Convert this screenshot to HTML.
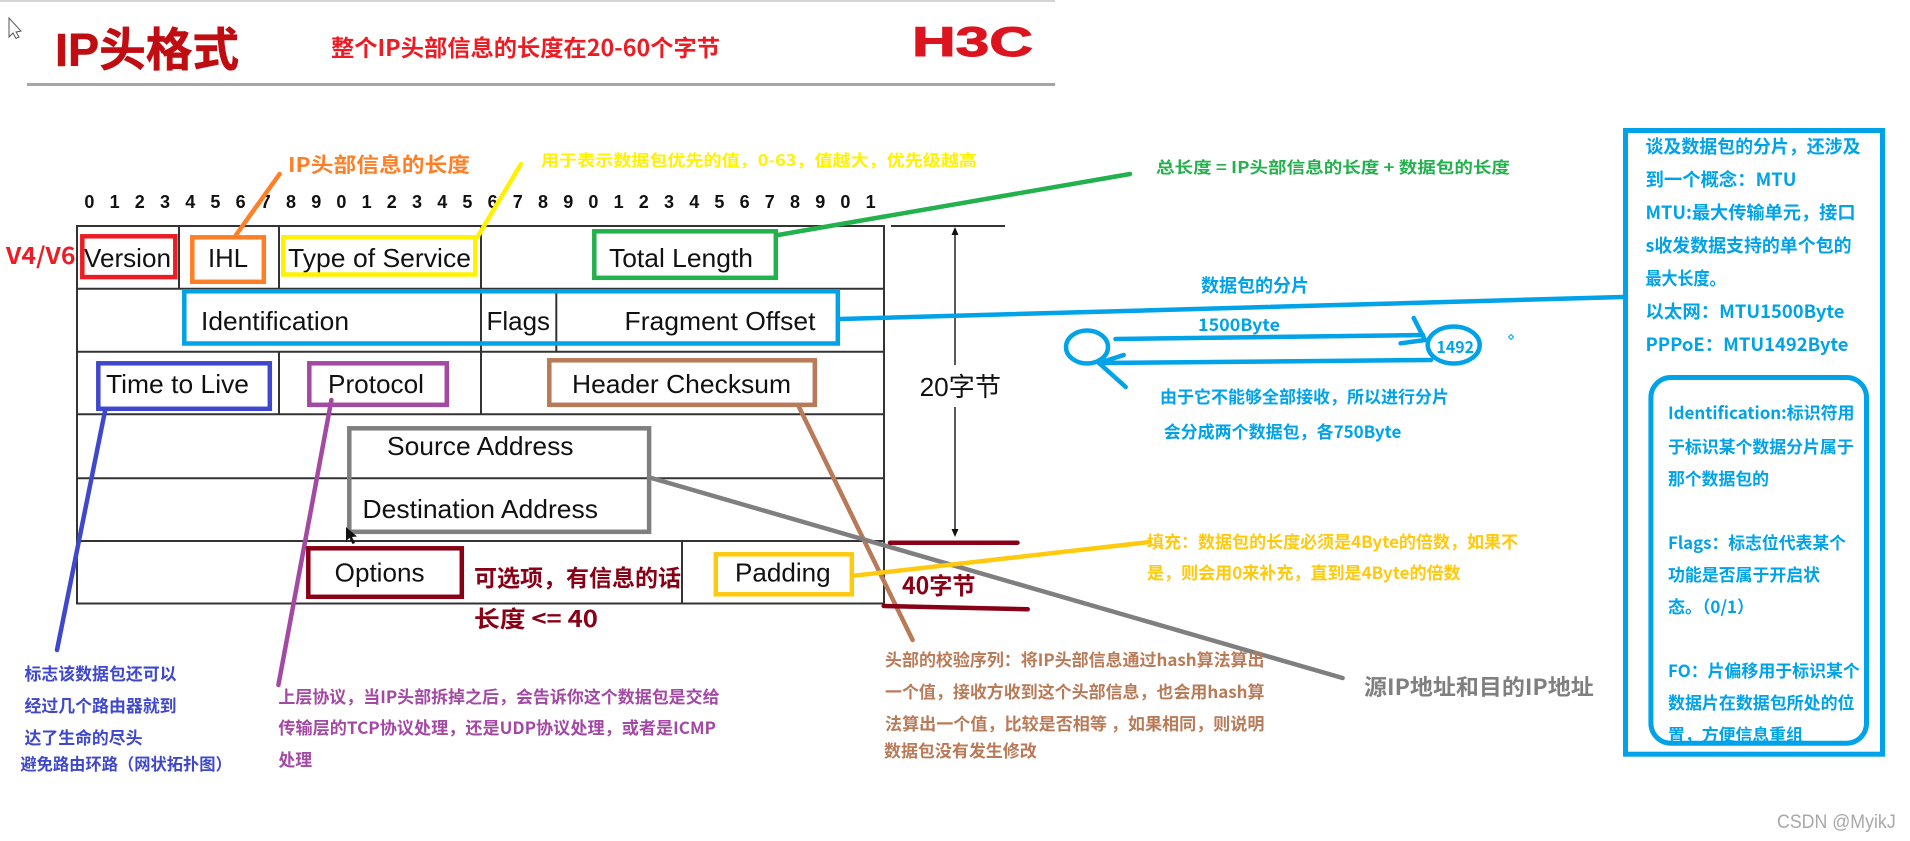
<!DOCTYPE html>
<html lang="zh">
<head>
<meta charset="utf-8">
<title>IP头格式</title>
<style>
html,body{margin:0;padding:0;background:#fff;width:1910px;height:841px;overflow:hidden}
svg{display:block}
text{font-family:"Liberation Sans","Noto Sans CJK SC",sans-serif;white-space:pre}
.b{font-weight:700;font-family:"Noto Sans CJK SC","Liberation Sans",sans-serif}
.h{font-weight:700;font-family:"Liberation Sans","Noto Sans CJK SC",sans-serif}
.l{font-size:26px;fill:#111}
.d{font-size:18px;font-weight:700;fill:#111;text-anchor:middle}
.c{fill:none;stroke-width:4.5}
.ln{fill:none;stroke-width:4.5;stroke-linecap:round}
</style>
</head>
<body>
<svg width="1910" height="841" viewBox="0 0 1910 841" xmlns="http://www.w3.org/2000/svg">
<rect width="1910" height="841" fill="#fff"/>
<rect x="0" y="0" width="1055" height="2" fill="#d4d4d4"/>
<rect x="27" y="83" width="1028" height="3" fill="#a6a6a6"/>
<path d="M9 18V37L13 33L16 38.500L19 37L16 32L21 31Z" fill="#fff" stroke="#555" stroke-width="1"/>

<text class="h" x="55" y="66" font-size="46" fill="#c00d12" stroke="#c00d12" stroke-width="0.600" textLength="184" lengthAdjust="spacingAndGlyphs">IP头格式</text>
<text class="b" x="331" y="56" font-size="23" fill="#ed1c24" textLength="389" lengthAdjust="spacingAndGlyphs">整个IP头部信息的长度在20-60个字节</text>
<text class="h" x="912" y="56" font-size="42" fill="#dc1420" stroke="#dc1420" stroke-width="1" textLength="121" lengthAdjust="spacingAndGlyphs">H3C</text>

<g>
<text class="d" x="89.400" y="208">0</text><text class="d" x="114.600" y="208">1</text><text class="d" x="139.800" y="208">2</text><text class="d" x="165" y="208">3</text><text class="d" x="190.200" y="208">4</text><text class="d" x="215.400" y="208">5</text><text class="d" x="240.600" y="208">6</text><text class="d" x="265.800" y="208">7</text><text class="d" x="291" y="208">8</text><text class="d" x="316.200" y="208">9</text><text class="d" x="341.400" y="208">0</text><text class="d" x="366.600" y="208">1</text><text class="d" x="391.800" y="208">2</text><text class="d" x="417" y="208">3</text><text class="d" x="442.200" y="208">4</text><text class="d" x="467.400" y="208">5</text><text class="d" x="492.600" y="208">6</text><text class="d" x="517.800" y="208">7</text><text class="d" x="543" y="208">8</text><text class="d" x="568.200" y="208">9</text><text class="d" x="593.400" y="208">0</text><text class="d" x="618.600" y="208">1</text><text class="d" x="643.800" y="208">2</text><text class="d" x="669" y="208">3</text><text class="d" x="694.200" y="208">4</text><text class="d" x="719.400" y="208">5</text><text class="d" x="744.600" y="208">6</text><text class="d" x="769.800" y="208">7</text><text class="d" x="795" y="208">8</text><text class="d" x="820.200" y="208">9</text><text class="d" x="845.400" y="208">0</text><text class="d" x="870.600" y="208">1</text>
</g>

<g stroke="#333" stroke-width="2" fill="none">
<rect x="77" y="226" width="807" height="377.500"/>
<path d="M77 288.700H884M77 351.700H884M77 414.300H884M77 478.300H884M77 541H884"/>
<path d="M179 226V288.700M279 226V288.700M481 226V414.300M556.300 288.700V351.700M279 351.700V414.300M682 541V603.500"/>
<path d="M891 226H1005"/>
<path d="M955 232V365M955 407V530" stroke="#222" stroke-width="1.500"/>
</g>
<path d="M955 227L951.500 235H958.500ZM955 537L951.500 529H958.500Z" fill="#111"/>

<g class="l">
<text class="l" x="84" y="267" textLength="87" lengthAdjust="spacingAndGlyphs">Version</text>
<text class="l" x="208" y="267" textLength="40" lengthAdjust="spacingAndGlyphs">IHL</text>
<text class="l" x="288" y="267" textLength="183" lengthAdjust="spacingAndGlyphs">Type of Service</text>
<text class="l" x="609" y="267" textLength="144" lengthAdjust="spacingAndGlyphs">Total Length</text>
<text class="l" x="201" y="330" textLength="148" lengthAdjust="spacingAndGlyphs">Identification</text>
<text class="l" x="486.500" y="330" textLength="63.500" lengthAdjust="spacingAndGlyphs">Flags</text>
<text class="l" x="624.500" y="330" textLength="191" lengthAdjust="spacingAndGlyphs">Fragment Offset</text>
<text class="l" x="106" y="393" textLength="143" lengthAdjust="spacingAndGlyphs">Time to Live</text>
<text class="l" x="328" y="393" textLength="96" lengthAdjust="spacingAndGlyphs">Protocol</text>
<text class="l" x="572" y="393" textLength="219" lengthAdjust="spacingAndGlyphs">Header Checksum</text>
<text class="l" x="387" y="455" textLength="186.500" lengthAdjust="spacingAndGlyphs">Source Address</text>
<text class="l" x="362.500" y="518" textLength="235.500" lengthAdjust="spacingAndGlyphs">Destination Address</text>
<text class="l" x="334.700" y="581.700" textLength="89.800" lengthAdjust="spacingAndGlyphs">Options</text>
<text class="l" x="735" y="581.700" textLength="95.600" lengthAdjust="spacingAndGlyphs">Padding</text>
</g>
<text x="919.600" y="396" font-size="26" fill="#111" textLength="81.400" lengthAdjust="spacingAndGlyphs">20字节</text>

<g>
<path class="ln" stroke="#ff7f27" d="M279.600 174L236 235"/>
<path class="ln" stroke="#fff200" d="M521 164L477.500 237"/>
<path class="ln" stroke="#22b14c" d="M1130 174L778 235"/>
<path class="ln" stroke="#00a2e8" d="M840 319L1623 297"/>
<path class="ln" stroke="#3f48cc" d="M105 411L57 650"/>
<path class="ln" stroke="#a349a4" d="M331.400 400L278.400 685"/>
<path class="ln" stroke="#b97a57" d="M799 407L912.600 640"/>
<path class="ln" stroke="#7f7f7f" d="M651.400 478L1342.600 678"/>
<path class="ln" stroke="#ffc90e" d="M854 575.700L1150 542"/>
<path class="ln" stroke="#880015" d="M890 542.700H1017.500M883.700 606L1027.700 609.300"/>
</g>

<g class="c">
<rect class="c" stroke="#ed1c24" x="82.300" y="236.300" width="93" height="40.800"/>
<rect class="c" stroke="#ff7f27" x="192.300" y="237.300" width="71.500" height="44.500"/>
<rect class="c" stroke="#fff200" x="283.300" y="237.300" width="192" height="37.200"/>
<rect class="c" stroke="#22b14c" x="594.300" y="231.300" width="181.500" height="46.500"/>
<rect class="c" stroke="#00a2e8" x="184.300" y="291.300" width="653.500" height="52.200"/>
<rect class="c" stroke="#3f48cc" x="98.300" y="363.300" width="171.500" height="45.500"/>
<rect class="c" stroke="#a349a4" x="309.300" y="363.300" width="137.500" height="41.500"/>
<rect class="c" stroke="#b97a57" x="549.300" y="360.300" width="265.500" height="44.500"/>
<rect class="c" stroke="#7f7f7f" x="349.300" y="428.300" width="299.800" height="103.500"/>
<rect class="c" stroke="#880015" x="308.300" y="548.300" width="153.500" height="48.500"/>
<rect class="c" stroke="#ffc90e" x="715.800" y="554.300" width="136" height="40"/>
</g>
<path d="M346 527V541L349.500 538L352.500 544L355 543L352 537L357 536.500Z" fill="#111"/>

<text class="b" x="6" y="264" font-size="23" fill="#ed1c24" textLength="69.500" lengthAdjust="spacingAndGlyphs">V4/V6</text>
<text class="b" x="288" y="172" font-size="20.500" fill="#ff7f27" textLength="182" lengthAdjust="spacingAndGlyphs">IP头部信息的长度</text>
<text class="b" x="541" y="166" font-size="16" fill="#fff200" textLength="436" lengthAdjust="spacingAndGlyphs">用于表示数据包优先的值，0-63，值越大，优先级越高</text>
<text class="b" x="1156" y="173" font-size="16" fill="#22b14c" textLength="354" lengthAdjust="spacingAndGlyphs">总长度 = IP头部信息的长度 + 数据包的长度</text>

<text class="b" x="1201" y="292" font-size="18" fill="#00a2e8" textLength="108" lengthAdjust="spacingAndGlyphs">数据包的分片</text>
<text class="b" x="1198" y="331" font-size="17" fill="#00a2e8" textLength="82" lengthAdjust="spacingAndGlyphs">1500Byte</text>
<g fill="none" stroke="#00a2e8" stroke-width="4.500" stroke-linecap="round" stroke-linejoin="round">
<ellipse cx="1087" cy="347" rx="21" ry="16.500"/>
<ellipse cx="1453.700" cy="345" rx="26" ry="18.500"/>
<path d="M1115.500 339L1423 335"/>
<path d="M1099 363L1431 360"/>
<path d="M1123.700 355L1099 363L1125.700 387"/>
<path d="M1413.700 318L1425 340L1400.600 343.300"/>
</g>
<text class="b" x="1436.500" y="353" font-size="16" fill="#00a2e8" textLength="37.500" lengthAdjust="spacingAndGlyphs">1492</text>
<path d="M1511 334.500L1513.500 337L1511 339.500L1508.500 337Z" fill="none" stroke="#00a2e8" stroke-width="1"/>
<text class="b" x="1160" y="403" font-size="17" fill="#00a2e8" textLength="289" lengthAdjust="spacingAndGlyphs">由于它不能够全部接收，所以进行分片</text>
<text class="b" x="1163.700" y="438" font-size="17" fill="#00a2e8" textLength="237.700" lengthAdjust="spacingAndGlyphs">会分成两个数据包，各750Byte</text>

<rect x="1625.500" y="130.500" width="257" height="623.700" fill="none" stroke="#00a2e8" stroke-width="5"/>
<g>
<text class="b" x="1645.500" y="153" font-size="18" fill="#00a2e8" textLength="215" lengthAdjust="spacingAndGlyphs">谈及数据包的分片，还涉及</text>
<text class="b" x="1645.500" y="186" font-size="18" fill="#00a2e8" textLength="151" lengthAdjust="spacingAndGlyphs">到一个概念：MTU</text>
<text class="b" x="1645.500" y="219" font-size="18" fill="#00a2e8" textLength="210" lengthAdjust="spacingAndGlyphs">MTU:最大传输单元，接口</text>
<text class="b" x="1645.500" y="252" font-size="18" fill="#00a2e8" textLength="206" lengthAdjust="spacingAndGlyphs">s收发数据支持的单个包的</text>
<text class="b" x="1645.500" y="285" font-size="18" fill="#00a2e8" textLength="80" lengthAdjust="spacingAndGlyphs">最大长度。</text>
<text class="b" x="1645.500" y="318" font-size="18" fill="#00a2e8" textLength="199" lengthAdjust="spacingAndGlyphs">以太网：MTU1500Byte</text>
<text class="b" x="1645.500" y="351" font-size="18" fill="#00a2e8" textLength="203" lengthAdjust="spacingAndGlyphs">PPPoE：MTU1492Byte</text>
</g>
<g>
<text class="b" x="1668" y="419" font-size="17" fill="#00a2e8" textLength="186.500" lengthAdjust="spacingAndGlyphs">Identification:标识符用</text>
<text class="b" x="1668" y="453" font-size="17" fill="#00a2e8" textLength="185.700" lengthAdjust="spacingAndGlyphs">于标识某个数据分片属于</text>
<text class="b" x="1668" y="485" font-size="17" fill="#00a2e8" textLength="101" lengthAdjust="spacingAndGlyphs">那个数据包的</text>
<text class="b" x="1668" y="549" font-size="17" fill="#00a2e8" textLength="178" lengthAdjust="spacingAndGlyphs">Flags：标志位代表某个</text>
<text class="b" x="1668" y="581" font-size="17" fill="#00a2e8" textLength="152" lengthAdjust="spacingAndGlyphs">功能是否属于开启状</text>
<text class="b" x="1668" y="613" font-size="17" fill="#00a2e8" textLength="86" lengthAdjust="spacingAndGlyphs">态。（0/1）</text>
<text class="b" x="1668" y="677" font-size="17" fill="#00a2e8" textLength="191.800" lengthAdjust="spacingAndGlyphs">FO：片偏移用于标识某个</text>
<text class="b" x="1668" y="709" font-size="17" fill="#00a2e8" textLength="186.500" lengthAdjust="spacingAndGlyphs">数据片在数据包所处的位</text>
<text class="b" x="1668" y="741" font-size="17" fill="#00a2e8" textLength="135" lengthAdjust="spacingAndGlyphs">置，方便信息重组</text>
</g>
<rect x="1650.900" y="377.500" width="215.600" height="365.700" rx="20" ry="20" fill="none" stroke="#00a2e8" stroke-width="5"/>

<text class="b" x="24.500" y="680" font-size="17" fill="#3f48cc" textLength="152" lengthAdjust="spacingAndGlyphs">标志该数据包还可以</text>
<text class="b" x="24.500" y="712" font-size="17" fill="#3f48cc" textLength="152" lengthAdjust="spacingAndGlyphs">经过几个路由器就到</text>
<text class="b" x="24.500" y="744" font-size="17" fill="#3f48cc" textLength="118" lengthAdjust="spacingAndGlyphs">达了生命的尽头</text>
<text class="b" x="20.400" y="770" font-size="16.300" fill="#3f48cc" textLength="211.400" lengthAdjust="spacingAndGlyphs">避免路由环路（网状拓扑图）</text>

<text class="b" x="278.400" y="703" font-size="17" fill="#a349a4" textLength="441.200" lengthAdjust="spacingAndGlyphs">上层协议，当IP头部拆掉之后，会告诉你这个数据包是交给</text>
<text class="b" x="278.400" y="734" font-size="17" fill="#a349a4" textLength="437.600" lengthAdjust="spacingAndGlyphs">传输层的TCP协议处理，还是UDP协议处理，或者是ICMP</text>
<text class="b" x="278.400" y="766" font-size="17" fill="#a349a4" textLength="33.600" lengthAdjust="spacingAndGlyphs">处理</text>

<text class="b" x="885" y="666" font-size="17" fill="#b97a57" textLength="379.500" lengthAdjust="spacingAndGlyphs">头部的校验序列：将IP头部信息通过hash算法算出</text>
<text class="b" x="885" y="698" font-size="17" fill="#b97a57" textLength="379.500" lengthAdjust="spacingAndGlyphs">一个值，接收方收到这个头部信息，也会用hash算</text>
<text class="b" x="885" y="730" font-size="17" fill="#b97a57" textLength="379.500" lengthAdjust="spacingAndGlyphs">法算出一个值，比较是否相等 ，如果相同，则说明</text>
<text class="b" x="884" y="757" font-size="17" fill="#b97a57" textLength="152.700" lengthAdjust="spacingAndGlyphs">数据包没有发生修改</text>

<text class="b" x="1147" y="548" font-size="17" fill="#ffc90e" textLength="371" lengthAdjust="spacingAndGlyphs">填充：数据包的长度必须是4Byte的倍数，如果不</text>
<text class="b" x="1147" y="579" font-size="17" fill="#ffc90e" textLength="313.600" lengthAdjust="spacingAndGlyphs">是，则会用0来补充，直到是4Byte的倍数</text>

<text class="b" x="902" y="594" font-size="23.500" fill="#880015" textLength="73.500" lengthAdjust="spacingAndGlyphs">40字节</text>
<text class="b" x="474" y="586" font-size="23" fill="#880015" textLength="207" lengthAdjust="spacingAndGlyphs">可选项，有信息的话</text>
<text class="b" x="474" y="627" font-size="23" fill="#880015" textLength="124" lengthAdjust="spacingAndGlyphs">长度 &lt;= 40</text>

<text class="b" x="1364" y="695" font-size="22" fill="#7f7f7f" textLength="229.700" lengthAdjust="spacingAndGlyphs">源IP地址和目的IP地址</text>
<text x="1777" y="828" font-size="19" fill="#a8a8a8" textLength="118.700" lengthAdjust="spacingAndGlyphs">CSDN @MyikJ</text>
</svg>
</body>
</html>
